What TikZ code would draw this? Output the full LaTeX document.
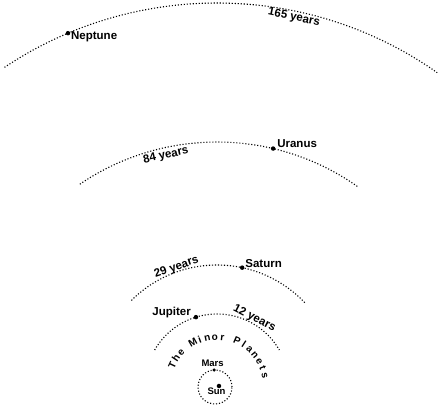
\documentclass[tikz,border=0pt]{standalone}
\usepackage{fontspec}
\setmainfont{Liberation Sans}
\usepackage{tikz}
\usetikzlibrary{positioning, calc}

\begin{document}
\begin{tikzpicture}[x=1pt, y=1pt,
    orbit/.style={line width=1.1pt, dash pattern=on 1.1pt off 1.9pt},
    planet/.style={circle, fill=black, inner sep=0pt, minimum size=4.5pt},
    lbl/.style={font=\bfseries\fontsize{11.5}{13}\selectfont, inner sep=0pt},
    small/.style={font=\bfseries\fontsize{9.5}{11}\selectfont, inner sep=0pt},
    ]
\useasboundingbox (-217pt,-21pt) rectangle (225pt,386pt);

% orbits round the sun
\draw[orbit] (123.7:383pt) arc[start angle=123.7, end angle=54.9, radius=383pt];
\draw[orbit] (124.2:244pt) arc[start angle=124.2, end angle=54.9, radius=244pt];
\draw[orbit] (135:121pt) arc[start angle=135, end angle=43, radius=121pt];
\draw[orbit] (150:72pt) arc[start angle=150, end angle=30, radius=72pt];
\draw[orbit] (-2pt,-1pt) circle[radius=17pt];

% planets
\node[planet] (neptune) at (112.9:383pt) {};
\node[planet] (uranus) at (76.7:244pt) {};
\node[planet] (saturn) at (78:121pt) {};
\node[planet] (jupiter) at (107:72pt) {};
\node[planet, minimum size=3.5pt] (mars) at ([shift={(-2pt,-1pt)}]93:17pt) {};
\node[planet] (sun) at (2pt,0pt) {};

\node[lbl, anchor=north west] (neptune-l) at ([xshift=3pt,yshift=1.5pt]neptune.center) {Neptune};
\node[lbl, anchor=base west] (uranus-l) at ([xshift=4pt,yshift=1pt]uranus.center) {Uranus};
\node[lbl, anchor=base west] (saturn-l) at ([xshift=3pt]saturn.center) {Saturn};
\node[lbl, anchor=base east] (jupiter-l) at ([xshift=-5pt,yshift=2pt]jupiter.center) {Jupiter};
\node[small, anchor=base] (mars-l) at ([xshift=-1.5pt,yshift=4pt]mars.center) {Mars};
\node[small, anchor=base] (sun-l) at ([xshift=-2.5pt,yshift=-9pt]sun.center) {Sun};

% periods
\node[lbl, rotate=-11.8] (p165) at (78.2:376.5pt) {165 years};
\node[lbl, rotate=12.5] (p84) at (102.5:236pt) {84 years};
\node[lbl, rotate=18.8] (p29) at (108.8:125.5pt) {29 years};
\node[lbl, rotate=-27] (p12) at (61:77pt) {12 years};

% the minor planets, one letter at a time round the sun
\foreach \ch [count=\i] in {T,h,e,{},M,i,n,o,r,{},P,l,a,n,e,t,s}
  \node[small, font=\bfseries\fontsize{10}{12}\selectfont, anchor=base,
        rotate={155-(\i-1)*8.9-90}] (minor-\i) at ({155-(\i-1)*8.9}:46pt) {\ch};
\end{tikzpicture}
\end{document}
